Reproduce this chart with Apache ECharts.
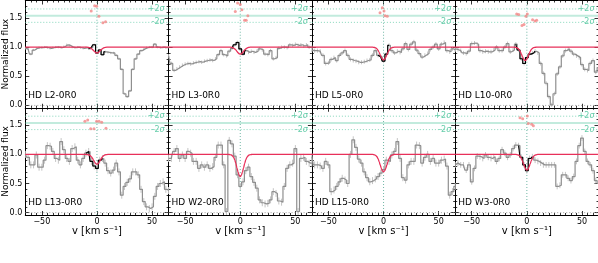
<!DOCTYPE html>
<html><head><meta charset="utf-8">
<script src="https://cdn.jsdelivr.net/npm/echarts@6/dist/echarts.min.js"></script>
<style>html,body{margin:0;padding:0;background:#fff}#c{width:598px;height:263px}</style>
</head><body><div id="c"></div>
<script>
const PANELS = ['HD L2-0R0','HD L3-0R0','HD L5-0R0','HD L10-0R0','HD L13-0R0','HD W2-0R0','HD L15-0R0','HD W3-0R0'];
const VEL = [-65,-62.5,-60,-57.5,-55,-52.5,-50,-47.5,-45,-42.5,-40,-37.5,-35,-32.5,-30,-27.5,-25,-22.5,-20,-17.5,-15,-12.5,-10,-7.5,-5,-2.5,0,2.5,5,7.5,10,12.5,15,17.5,20,22.5,25,27.5,30,32.5,35,37.5,40,42.5,45,47.5,50,52.5,55,57.5,60,62.5,65];
const FLUX_L2 = [0.98,0.97,0.88,0.95,0.98,0.99,0.99,1.0,0.99,0.98, 0.99,1.0,1.0,0.99,1.01,1.04,1.03,1.0,0.99,1.0, 0.99,0.98,0.99,0.97,1.0,1.04,0.9,0.95,0.87,0.92, 0.91,0.9,0.9,0.86,0.8,0.62,0.2,0.15,0.25,0.62, 0.8,0.88,0.94,0.97,0.99,1.0,1.0,1.05,1.0,0.99, 1.0,0.99,1.0];
const FLUX_L3 = [0.85,0.72,0.6,0.63,0.66,0.69,0.71,0.72,0.71,0.73, 0.74,0.75,0.74,0.76,0.77,0.78,0.77,0.8,0.87,0.94, 0.87,0.85,0.93,0.98,1.04,1.08,0.97,0.88,0.94,0.91, 0.93,0.91,0.93,0.97,0.95,0.88,0.87,0.94,0.8,0.82, 0.98,1.0,1.0,0.99,1.04,1.03,1.05,1.03,1.04,1.02, 1.04,1.0,1.0];
const FLUX_L5 = [0.95,0.94,0.94,0.93,0.86,0.72,0.73,0.79,0.82,0.77, 0.86,0.9,0.94,0.86,0.79,0.77,0.76,0.74,0.74,0.75, 0.77,0.78,0.86,0.94,0.86,0.83,0.76,0.88,1.03,0.94, 0.9,0.93,0.91,0.97,1.06,0.96,1.05,1.09,0.95,0.89, 0.83,0.86,0.89,0.96,1.0,1.05,0.97,1.05,1.08,0.94, 0.92,0.97,0.95];
const FLUX_L10 = [0.97,0.96,0.94,0.9,0.89,0.93,1.06,1.07,1.05,0.94, 0.92,0.93,0.92,0.92,0.95,1.0,0.94,0.94,1.0,1.06, 0.92,0.95,1.05,0.95,0.8,0.72,0.82,0.88,0.9,0.93, 0.9,0.72,0.55,0.38,0.15,0.01,0.2,0.54,0.66,0.85, 0.94,0.97,0.93,0.88,0.85,0.82,0.7,0.62,0.6,0.72, 0.77,0.57,0.65];
const FLUX_L13 = [1.0,0.95,0.82,0.82,0.99,0.78,0.78,0.9,1.15,1.14, 1.05,0.93,0.9,1.22,1.08,0.93,0.88,1.1,1.13,0.9, 0.82,0.93,1.02,1.05,0.88,0.8,0.76,0.9,0.93,0.85, 0.72,0.68,0.73,0.85,0.7,0.3,0.45,0.52,0.58,0.7, 0.7,0.65,0.4,0.19,0.1,0.07,0.1,0.28,0.45,0.5, 0.53,0.4,0.38];
const FLUX_W2 = [0.93,0.93,1.05,1.1,0.93,0.99,0.93,1.05,1.02,0.88, 0.88,0.76,0.82,0.78,0.82,0.76,0.79,0.95,1.16,1.16, 0.82,0.02,1.24,1.18,0.97,0.65,0.45,0.53,0.72,0.78, 0.62,0.52,0.42,0.22,0.17,0.15,0.16,0.22,0.36,0.33, 0.2,0.18,0.45,0.76,0.82,0.85,1.1,0.02,0.93,0.95, 0.88,0.85,0.85];
const FLUX_L15 = [0.96,0.82,0.82,0.8,0.76,0.88,0.82,0.36,0.39,0.45, 0.53,0.59,0.56,0.5,1.0,1.25,1.12,0.92,0.85,0.7, 0.6,0.53,0.55,0.58,0.62,0.68,0.74,0.9,0.88,0.99, 1.05,1.22,0.93,0.6,0.56,0.82,0.88,0.88,1.16,1.15, 0.85,0.95,1.0,0.88,0.93,0.85,0.85,0.9,0.92,0.8, 0.3,0.36,0.45];
const FLUX_W3 = [0.82,0.85,0.82,0.82,0.73,0.82,0.53,0.76,0.97,0.96, 0.93,0.99,0.95,0.93,0.96,0.88,0.93,1.08,1.02,0.95, 0.99,1.1,1.16,1.15,0.95,0.82,0.72,0.93,0.96,0.9, 0.88,0.85,0.82,0.82,0.82,0.82,0.82,0.45,0.47,0.65, 0.65,0.59,0.55,0.62,0.88,1.15,1.28,1.05,0.88,0.82, 0.72,0.55,0.5];
const ERR = [0.02,0.03,0.035,0.035,0.06,0.06,0.06,0.05];
const FIT_RANGE = [[-7.5,7.5],[-7.5,5],[-5,5],[-10,7.5],[-10,5],null,null,[-7.5,5]];
const MODEL_V = [-65,-12,-10,-8,-7,-6,-5,-4,-3,-2,-1,0,1,2,3,4,5,6,7,8,10,12,65];
const MODEL_L2 = [1,1,1,0.997,0.993,0.987,0.975,0.959,0.939,0.92,0.905,0.9,0.905,0.92,0.939,0.959,0.975,0.987,0.993,0.997,1,1,1];
const MODEL_L3 = [1,1,1,0.997,0.992,0.984,0.97,0.951,0.927,0.904,0.886,0.88,0.886,0.904,0.927,0.951,0.97,0.984,0.992,0.997,1,1,1];
const MODEL_L5 = [1,1,0.999,0.994,0.985,0.97,0.945,0.91,0.866,0.824,0.792,0.78,0.792,0.824,0.866,0.91,0.945,0.97,0.985,0.994,0.999,1,1];
const MODEL_L10 = [1,1,0.996,0.978,0.957,0.925,0.884,0.837,0.797,0.773,0.773,0.797,0.837,0.884,0.925,0.957,0.978,0.99,0.996,0.998,1,1,1];
const MODEL_L13 = [1,1,0.999,0.995,0.989,0.977,0.958,0.93,0.897,0.864,0.839,0.83,0.839,0.864,0.897,0.93,0.958,0.977,0.989,0.995,0.999,1,1];
const MODEL_W2 = [1,1,0.998,0.989,0.975,0.949,0.905,0.844,0.769,0.696,0.641,0.62,0.641,0.696,0.769,0.844,0.905,0.949,0.975,0.989,0.998,1,1];
const MODEL_L15 = [1,1,0.999,0.991,0.98,0.96,0.925,0.877,0.818,0.76,0.716,0.7,0.716,0.76,0.818,0.877,0.925,0.96,0.98,0.991,0.999,1,1];
const MODEL_W3 = [1,1,0.999,0.992,0.982,0.964,0.933,0.889,0.836,0.784,0.745,0.73,0.745,0.784,0.836,0.889,0.933,0.964,0.982,0.992,0.999,1,1];
const RES_L2 = [[-5.2,1.62],[-2.1,1.71],[-0.3,1.70],[1.8,1.53],[5.4,1.42],[7.8,1.435]];
const RES_L3 = [[-4.5,1.61],[-2.4,1.755],[0,1.73],[1.5,1.64],[3.9,1.46],[5.4,1.46],[6.9,1.54]];
const RES_L5 = [[-3.2,1.59],[-1.1,1.675],[0.4,1.62],[1.3,1.54],[3.4,1.53]];
const RES_L10 = [[-9.2,1.57],[-7.4,1.56],[-4.4,1.37],[-2.6,1.39],[-0.8,1.53],[0.4,1.57],[5.2,1.47],[7.4,1.45],[8.9,1.46]];
const RES_L13 = [[-10.9,1.57],[-8.4,1.59],[-5.7,1.44],[-2.7,1.44],[-0.3,1.57],[1.9,1.57],[4.3,1.55],[8.2,1.45]];
const RES_W2 = [];
const RES_L15 = [];
const RES_W3 = [[-6.2,1.63],[-3.8,1.61],[0.4,1.66],[1.3,1.53],[4.4,1.515],[5.9,1.49]];
const SIG_PLUS = 1.655, SIG_ZERO = 1.54, SIG_MINUS = 1.425;
const X_MAJOR = [-50,0,50];
const X_MINOR = [-60,-55,-45,-40,-35,-30,-25,-20,-15,-10,-5,5,10,15,20,25,30,35,40,45,55,60];
const Y_MAJOR = [0,0.5,1.0,1.5];
const Y_MINOR = [0.1,0.2,0.3,0.4,0.6,0.7,0.8,0.9,1.1,1.2,1.3,1.4,1.6,1.7];
const XMIN=-65, XMAX=65, YMIN=-0.04, YMAX=1.8;

const FLUX = [FLUX_L2,FLUX_L3,FLUX_L5,FLUX_L10,FLUX_L13,FLUX_W2,FLUX_L15,FLUX_W3];
const MODELS = [MODEL_L2,MODEL_L3,MODEL_L5,MODEL_L10,MODEL_L13,MODEL_W2,MODEL_L15,MODEL_W3];
const RESID = [RES_L2,RES_L3,RES_L5,RES_L10,RES_L13,RES_W2,RES_L15,RES_W3];

const L0 = 25.3, PW = 143.3, TOPS = [0.5, 107.75], PH = 107.25;
const FONT = 'DejaVu Sans';
const TEAL = '#66cdaa';
const fmtX = v => (v < 0 ? '\u2212' + (-v) : String(v));
const fmtY = v => Number(v).toFixed(1);

const grids=[], xAxes=[], yAxes=[], series=[];
function mkX(k, pos, ticks, len, line, labels, name){
  xAxes.push({type:'value', gridIndex:k, position:pos, min:XMIN, max:XMAX,
    axisLine:{show:line, onZero:false, lineStyle:{color:'#000', width:1}},
    axisTick:{show:true, inside:true, length:len, customValues:ticks, lineStyle:{color:'#000', width:0.8}},
    axisLabel:{show:labels, customValues:X_MAJOR, formatter:fmtX, fontSize:8, color:'#000', margin:3, fontFamily:FONT},
    splitLine:{show:false}, minorTick:{show:false},
    name:name||'', nameLocation:'middle', nameGap:11, nameMoveOverlap:false,
    nameTextStyle:{fontSize:10, color:'#000', fontFamily:FONT}});
  return xAxes.length-1;
}
function mkY(k, pos, ticks, len, line, labels, name){
  yAxes.push({type:'value', gridIndex:k, position:pos, min:YMIN, max:YMAX,
    axisLine:{show:line, onZero:false, lineStyle:{color:'#000', width:1}},
    axisTick:{show:true, inside:true, length:len, customValues:ticks, lineStyle:{color:'#000', width:0.8}},
    axisLabel:{show:labels, customValues:Y_MAJOR, formatter:fmtY, fontSize:8, color:'#000', margin:3, fontFamily:FONT},
    splitLine:{show:false}, minorTick:{show:false},
    name:name||'', nameLocation:'middle', nameGap:15, nameRotate:90, nameMoveOverlap:false,
    nameTextStyle:{fontSize:9, color:'#000', fontFamily:FONT}});
  return yAxes.length-1;
}

for (let k=0;k<8;k++){
  const c=k%4, r=Math.floor(k/4);
  grids.push({left:L0+c*PW, top:TOPS[r], width:PW, height:PH, containLabel:false, outerBoundsMode:'none'});
  const xi = mkX(k,'bottom',X_MAJOR,4,true,r===1, r===1 ? 'v [km s\u207B\u00B9]' : '');
  mkX(k,'bottom',X_MINOR,2,false,false);
  mkX(k,'top',X_MAJOR,4,true,false);
  mkX(k,'top',X_MINOR,2,false,false);
  const yi = mkY(k,'left',Y_MAJOR,4,true,c===0, c===0 ? 'Normalized flux' : '');
  mkY(k,'left',Y_MINOR,2,false,false);
  mkY(k,'right',Y_MAJOR,4,true,false);
  mkY(k,'right',Y_MINOR,2,false,false);
  const ax = {xAxisIndex:xi, yAxisIndex:yi};
  const refLine = (data, color, width, type, z) => Object.assign({type:'line', data, symbol:'none', silent:true, animation:false, z,
    lineStyle:{color, width, type}}, ax);
  series.push(refLine([[XMIN,0],[XMAX,0]], '#888', 0.8, [1,2], 1));
  series.push(refLine([[XMIN,SIG_ZERO],[XMAX,SIG_ZERO]], 'rgba(102,205,170,0.4)', 2, 'solid', 1));
  series.push(refLine([[XMIN,SIG_PLUS],[XMAX,SIG_PLUS]], TEAL, 0.8, [1,2], 1));
  series.push(refLine([[XMIN,SIG_MINUS],[XMAX,SIG_MINUS]], TEAL, 0.8, [1,2], 1));
  series.push(refLine([[0,YMIN],[0,YMAX]], '#4da58f', 0.8, [1,2], 1));
  const f = FLUX[k];
  series.push(Object.assign({type:'custom', clip:true, z:2, silent:true, animation:false,
    data: VEL.map((v,i)=>[v, f[i], ERR[k]]), encode:{x:0,y:1},
    renderItem:(params, api)=>{
      const v=api.value(0), y=api.value(1), e=api.value(2);
      const p1=api.coord([v,y-e]), p2=api.coord([v,y+e]);
      return {type:'line', shape:{x1:p1[0],y1:p1[1],x2:p2[0],y2:p2[1]}, style:{stroke:'#c4c4c4', lineWidth:1}};
    }}, ax));
  series.push(Object.assign({type:'line', step:'middle', symbol:'none', clip:true, z:3, silent:true, animation:false,
    data: VEL.map((v,i)=>[v, f[i]]), lineStyle:{color:'#8f8f8f', width:1.2}}, ax));
  const fr = FIT_RANGE[k];
  if (fr){
    const sub=[]; VEL.forEach((v,i)=>{ if (v>=fr[0] && v<=fr[1]) sub.push([v,f[i]]); });
    series.push(Object.assign({type:'line', step:'middle', symbol:'none', clip:true, z:4, silent:true, animation:false,
      data: sub, lineStyle:{color:'#000', width:1.1}}, ax));
  }
  series.push(Object.assign({type:'line', smooth:0.3, smoothMonotone:'x', symbol:'none', clip:true, z:5, silent:true, animation:false,
    data: MODEL_V.map((v,i)=>[v, MODELS[k][i]]), lineStyle:{color:'#e8305a', width:1.3}}, ax));
  if (RESID[k].length){
    series.push(Object.assign({type:'scatter', symbolSize:3, z:6, silent:true, animation:false,
      data: RESID[k], itemStyle:{color:'#f38787', opacity:0.8}}, ax));
  }
}

const chart = echarts.init(document.getElementById('c'), null, {renderer:'canvas'});
chart.setOption({animation:false, grid:grids, xAxis:xAxes, yAxis:yAxes, series});

const graphics=[];
const sigRich = {a:{fontSize:8, fill:TEAL, fontFamily:FONT}, b:{fontSize:8, fill:TEAL, fontFamily:FONT, fontStyle:'italic'}};
for (let k=0;k<8;k++){
  const c=k%4, r=Math.floor(k/4);
  const left=L0+c*PW, bottom=TOPS[r]+PH;
  graphics.push({type:'text', x:left+3, y:bottom-7.5, silent:true, z:20,
    style:{text:PANELS[k], fontSize:9, fontFamily:FONT, fill:'#000', textVerticalAlign:'bottom', verticalAlign:'bottom'}});
  const pp = chart.convertToPixel({gridIndex:k}, [XMAX, SIG_PLUS]);
  const pm = chart.convertToPixel({gridIndex:k}, [XMAX, SIG_MINUS]);
  graphics.push({type:'text', x:pp[0]-4, y:pp[1], silent:true, z:20,
    style:{text:'{a|+2}{b|\u03C3}', rich:sigRich, align:'right', verticalAlign:'middle', textAlign:'right', textVerticalAlign:'middle'}});
  graphics.push({type:'text', x:pm[0]-4, y:pm[1], silent:true, z:20,
    style:{text:'{a|-2}{b|\u03C3}', rich:sigRich, align:'right', verticalAlign:'middle', textAlign:'right', textVerticalAlign:'middle'}});
}
chart.setOption({graphic:graphics});
</script></body></html>
